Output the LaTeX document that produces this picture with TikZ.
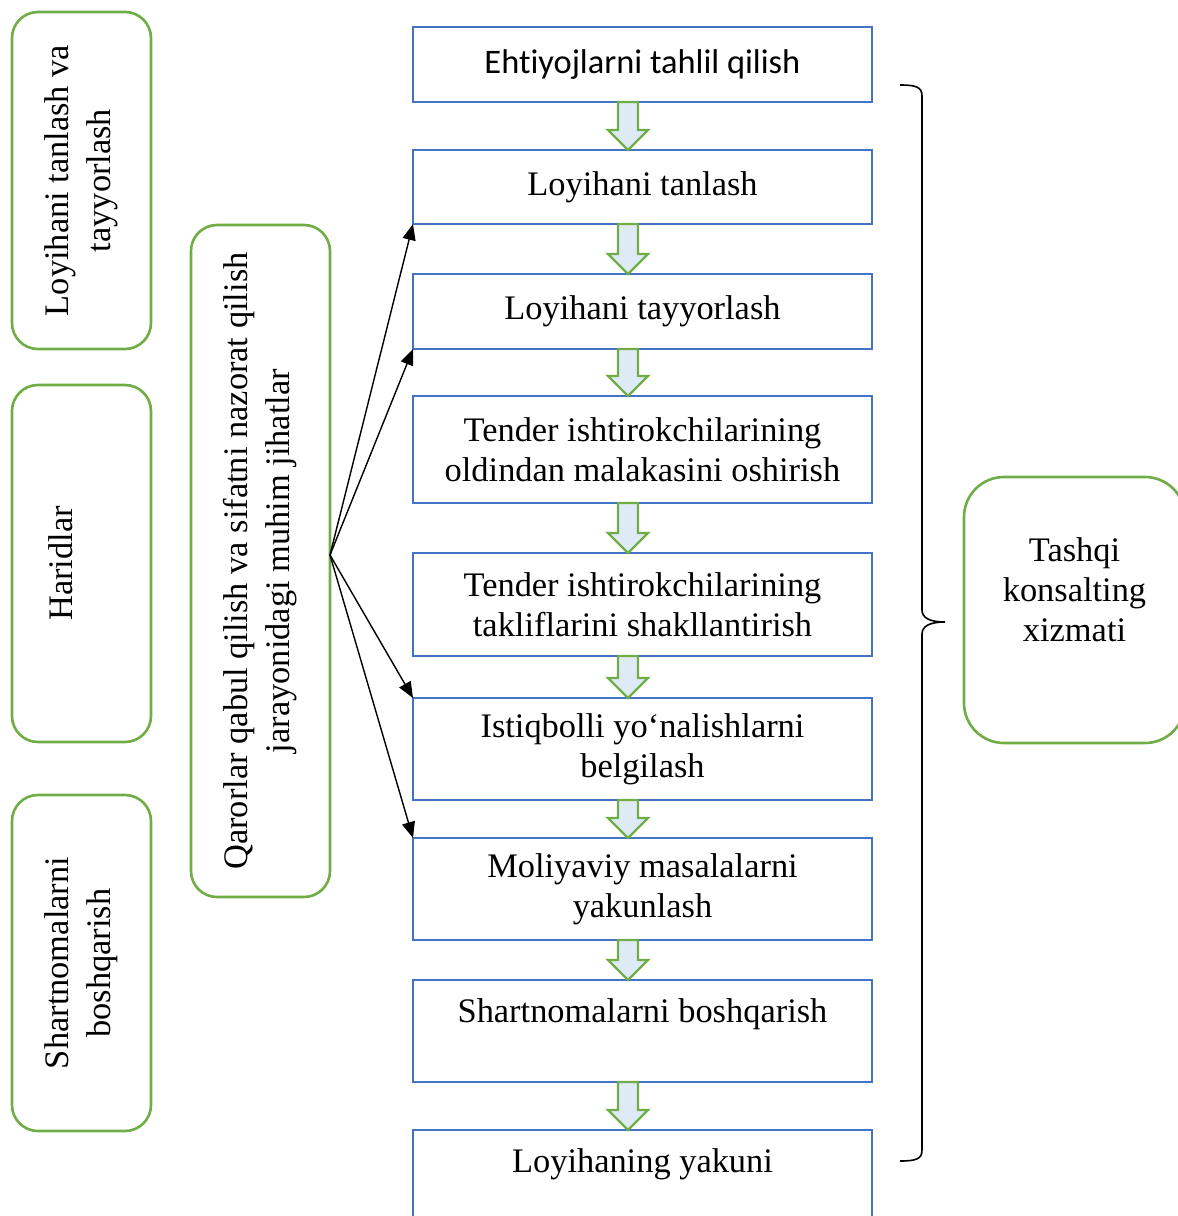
\documentclass[tikz,border=0pt]{standalone}
\usepackage{fontspec}
\setmainfont{Liberation Serif}
\newfontfamily\calibrifont[Ligatures=CommonOff]{Carlito}
\usepackage{tikz}
\usepackage{xcolor}
\usetikzlibrary{positioning, calc, arrows.meta}

\definecolor{boxblue}{HTML}{4472C4}
\definecolor{boxgreen}{HTML}{70AD47}
\definecolor{arrowfill}{HTML}{DEEBF7}

\tikzstyle{block} = [rectangle, minimum width=459pt, inner sep=0pt, outer sep=0pt, align=center, draw=boxblue, line width=2.6pt, font=\fontsize{34.4}{40}\selectfont]
\tikzstyle{sidebox} = [rectangle, rotate=90, rounded corners=26pt, inner sep=0pt, outer sep=0pt, minimum height=139pt, align=center, draw=boxgreen, line width=2.6pt, font=\fontsize{34.4}{42}\selectfont]
\tikzstyle{arrow} = [line width=1.4pt, -{Triangle[length=16pt,width=13pt]}]
\tikzstyle{fatarrow} = [draw=boxgreen, fill=arrowfill, line width=2.4pt, line join=miter]

% green hollow arrow from one step to the next
\newcommand{\flowarrow}[2]{%
  \draw[fatarrow] ($(#1.south)+(-24.5,0)$) -- ($(#2.north)+(-24.5,-20)$)
    -- ($(#2.north)+(-34.5,-20)$) -- ($(#2.north)+(-14.5,0)$)
    -- ($(#2.north)+(5.5,-20)$) -- ($(#2.north)+(-4.5,-20)$)
    -- ($(#1.south)+(-4.5,0)$) -- cycle;}

\begin{document}
\begin{tikzpicture}[x=1pt, y=-1pt]
\useasboundingbox (0,0) rectangle (1178,1216);
\clip (0,0) rectangle (1178,1216);

% steps
\node (ehtiyoj) [block, minimum height=75pt, font=\calibrifont\fontsize{34.4}{40}\selectfont] at (642.5,64.5) {\raisebox{-3pt}{Ehtiyojlarni tahlil qilish}};
\node (tanlash) [block, minimum height=74pt, below=48pt of ehtiyoj] {Loyihani tanlash};
\node (tayyor) [block, minimum height=75pt, below=50pt of tanlash] {Loyihani tayyorlash};
\node (malaka) [block, minimum height=107pt, below=47pt of tayyor] {Tender ishtirokchilarining\\oldindan malakasini oshirish};
\node (taklif) [block, minimum height=103pt, below=50pt of malaka] {Tender ishtirokchilarining\\takliflarini shakllantirish};
\node (istiqbol) [block, minimum height=102pt, below=42pt of taklif] {Istiqbolli yo‘nalishlarni\\belgilash};
\node (moliya) [block, minimum height=102pt, below=38pt of istiqbol] {Moliyaviy masalalarni\\yakunlash};
\node (shartnoma) [block, minimum height=102pt, below=40pt of moliya] {Shartnomalarni boshqarish\\~};
\node (yakun) [block, minimum height=102pt, below=48pt of shartnoma] {Loyihaning yakuni\\~};

\flowarrow{ehtiyoj}{tanlash}
\flowarrow{tanlash}{tayyor}
\flowarrow{tayyor}{malaka}
\flowarrow{malaka}{taklif}
\flowarrow{taklif}{istiqbol}
\flowarrow{istiqbol}{moliya}
\flowarrow{moliya}{shartnoma}
\flowarrow{shartnoma}{yakun}

% stages on the left
\node (stageone) [sidebox, minimum width=337pt] at (81.5,180.5) {Loyihani tanlash va\\tayyorlash};
\node (stagetwo) [sidebox, minimum width=357pt] at (81.5,563.5) {Haridlar\\~};
\node (stagethree) [sidebox, minimum width=336pt] at (81.5,963) {Shartnomalarni\\boshqarish};
\node (qaror) [sidebox, minimum width=672pt] at (260.5,561) {Qarorlar qabul qilish va sifatni nazorat qilish\\jarayonidagi muhim jihatlar};

\coordinate (fan) at ($(qaror.south)+(0,-6)$);
\draw [arrow] (fan) -- (tanlash.south west);
\draw [arrow] (fan) -- (tayyor.south west);
\draw [arrow] (fan) -- (istiqbol.north west);
\draw [arrow] (fan) -- (moliya.north west);

% brace and consulting box
\draw [line width=1.6pt] (900,85) .. controls (916,85) and (922,87) .. (922,96) -- (922,610)
  .. controls (922,618) and (930,622) .. (945,622) .. controls (930,622) and (922,626) .. (922,634)
  -- (922,1150) .. controls (922,1159) and (916,1161) .. (900,1161);
\node (tashqi) [rectangle, rounded corners=40pt, draw=boxgreen, line width=2.6pt, minimum width=221pt, minimum height=266pt, align=center, font=\fontsize{34.4}{40}\selectfont] at (1074.5,610) {Tashqi\\konsalting\\xizmati\\~};
\end{tikzpicture}
\end{document}
